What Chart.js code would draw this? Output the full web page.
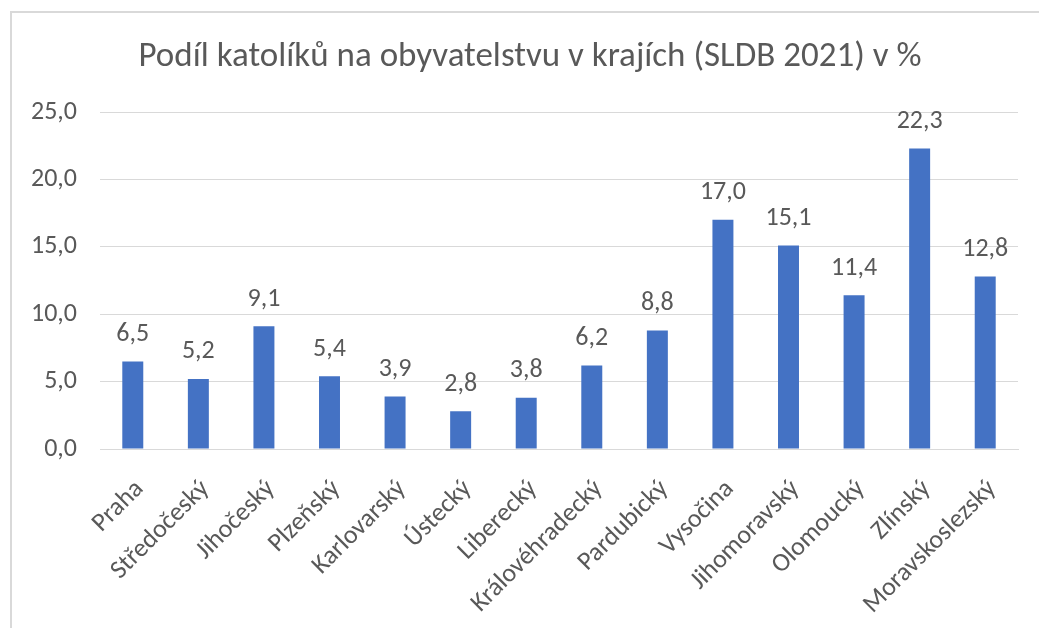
<!DOCTYPE html>
<html lang="cs">
<head>
  <meta charset="UTF-8">
  <title>Podíl katolíků na obyvatelstvu v krajích (SLDB 2021) v %</title>
  <script src="https://cdn.jsdelivr.net/npm/chart.js"></script>
  <style>
    html, body { margin: 0; padding: 0; background: #fff; }
    #wrap { position: relative; width: 1039px; height: 628px; overflow: hidden; }
    #frame {
      position: absolute; left: 10px; top: 11px; width: 1100px; height: 700px;
      border-left: 2px solid #d9d9d9; border-top: 2px solid #d9d9d9;
    }
    canvas { position: absolute; left: 0; top: 0; }
  </style>
</head>
<body>
  <div id="wrap">
    <div id="frame"></div>
    <canvas id="chart" width="1039" height="628"></canvas>
  </div>

  <script>
    const title = 'Podíl katolíků na obyvatelstvu v krajích (SLDB 2021) v %';
    const kraje = ['Praha', 'Středočeský', 'Jihočeský', 'Plzeňský', 'Karlovarský', 'Ústecký',
      'Liberecký', 'Královéhradecký', 'Pardubický', 'Vysočina', 'Jihomoravský',
      'Olomoucký', 'Zlínský', 'Moravskoslezský'];
    const katolici = [6.5, 5.2, 9.1, 5.4, 3.9, 2.8, 3.8, 6.2, 8.8, 17.0, 15.1, 11.4, 22.3, 12.8];
    const yTicks = [0, 5, 10, 15, 20, 25];

    const fmt = v => v.toFixed(1).replace('.', ',');
    const textColor = '#595959';
    const fontFamily = 'Carlito, "Open Sans", sans-serif';

    // nadpis (v Excelu je trochu vpravo od středu)
    const chartTitle = {
      id: 'chartTitle',
      beforeDraw(chart) {
        const ctx = chart.ctx;
        ctx.save();
        ctx.font = '35px ' + fontFamily;
        ctx.fillStyle = textColor;
        ctx.textAlign = 'center';
        ctx.textBaseline = 'alphabetic';
        ctx.fillText(title, 530, 66);
        ctx.restore();
      }
    };

    // popisky hodnot nad sloupci
    const valueLabels = {
      id: 'valueLabels',
      afterDatasetsDraw(chart) {
        const ctx = chart.ctx;
        const meta = chart.getDatasetMeta(0);
        ctx.save();
        ctx.font = '26px ' + fontFamily;
        ctx.fillStyle = textColor;
        ctx.textAlign = 'center';
        ctx.textBaseline = 'middle';
        meta.data.forEach((bar, i) => {
          ctx.fillText(fmt(katolici[i]), bar.x, bar.y - 27);
        });
        ctx.restore();
      }
    };

    new Chart(document.getElementById('chart'), {
      type: 'bar',
      data: {
        labels: kraje,
        datasets: [{
          data: katolici,
          backgroundColor: '#4472c4',
          barPercentage: 0.32,
          categoryPercentage: 1
        }]
      },
      options: {
        responsive: false,
        animation: false,
        layout: { padding: { left: 0, right: 21, bottom: 0, top: 112 } },
        plugins: {
          legend: { display: false },
          tooltip: { enabled: false },
          title: { display: false }
        },
        scales: {
          x: {
            grid: { display: false, drawTicks: false },
            border: { color: '#d9d9d9', width: 1 },
            ticks: {
              color: textColor,
              font: { family: fontFamily, size: 26 },
              minRotation: 45,
              maxRotation: 45,
              padding: 25,
              labelOffset: 7,
              autoSkip: false
            },
            afterFit: s => { s.height = 179; }
          },
          y: {
            min: 0,
            max: 25,
            afterBuildTicks: s => { s.ticks = yTicks.map(v => ({ value: v })); },
            grid: { color: '#d9d9d9', drawTicks: false },
            border: { display: false },
            ticks: {
              color: textColor,
              font: { family: fontFamily, size: 26 },
              padding: 23,
              callback: v => fmt(v)
            },
            afterFit: s => { s.width = 100; }
          }
        }
      },
      plugins: [chartTitle, valueLabels]
    });
  </script>
</body>
</html>
